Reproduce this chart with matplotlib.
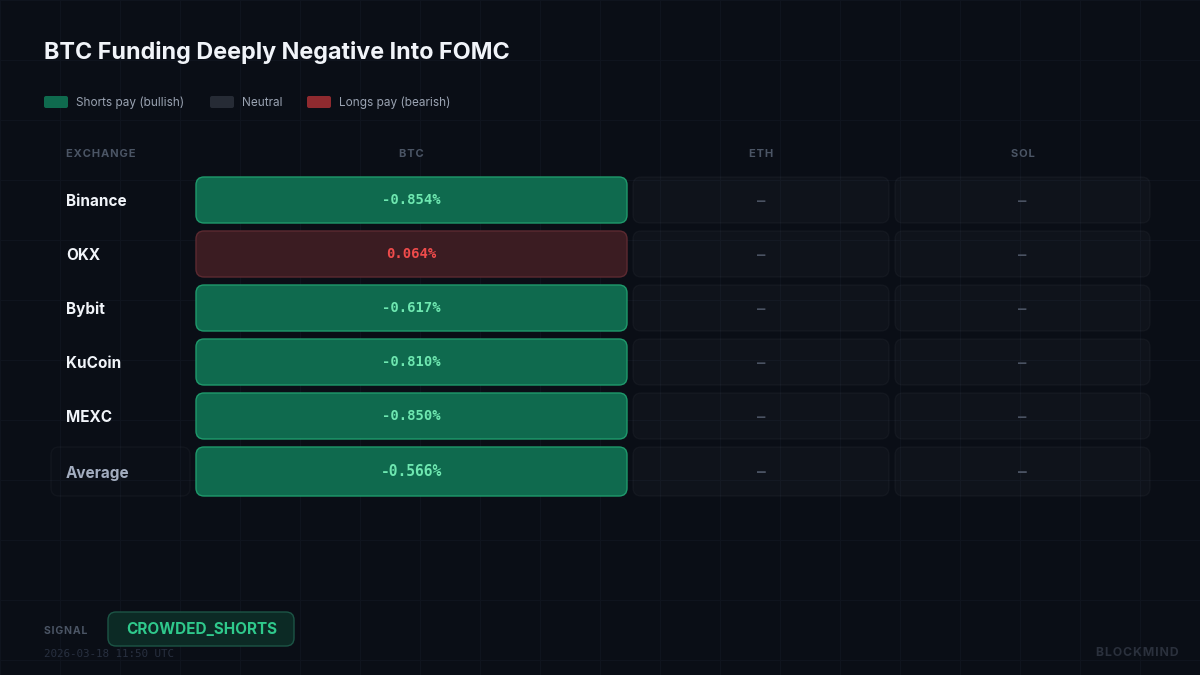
import matplotlib.pyplot as plt
from matplotlib.patches import FancyBboxPatch

# data
exchanges = ["Binance", "OKX", "Bybit", "KuCoin", "MEXC"]
assets = ["BTC", "ETH", "SOL"]
btc_funding = [-0.854, 0.064, -0.617, -0.810, -0.850]
eth_funding = [None, None, None, None, None]
sol_funding = [None, None, None, None, None]
avg_funding = [-0.566, None, None]
signal = "CROWDED_SHORTS"
timestamp = "2026-03-18 11:50 UTC"
legend_labels = ["Shorts pay (bullish)", "Neutral", "Longs pay (bearish)"]

BG = "#0a0e16"
GREEN_FILL, GREEN_EDGE, GREEN_TEXT = "#0f6a4e", "#1f9a6c", "#6ee7b0"
RED_FILL, RED_EDGE, RED_TEXT = "#3b1c22", "#5c2a31", "#ef4b4b"
NEU_FILL, NEU_EDGE, NEU_TEXT = (1, 1, 1, 0.022), (1, 1, 1, 0.03), "#4a5262"
SANS = ["Inter", "DejaVu Sans"]
MONO = ["DejaVu Sans Mono"]
HAIR = "\u200a"

W, H = 1200, 675
fig = plt.figure(figsize=(12, 6.75), dpi=100, facecolor=BG)
ax = fig.add_axes([0, 0, 1, 1])
ax.set_xlim(0, W)
ax.set_ylim(H, 0)
ax.axis("off")

# faint background grid
for gx in range(0, W + 1, 60):
    ax.axvline(gx, color="#0f141e", lw=0.8, zorder=0)
for gy in range(0, H + 1, 60):
    ax.axhline(gy, color="#0f141e", lw=0.8, zorder=0)


def cell(x0, y0, w, h, fill, edge, r=8, lw=1.0):
    ax.add_patch(FancyBboxPatch((x0 + r, y0 + r), w - 2 * r, h - 2 * r,
                                boxstyle=f"round,pad={r}", fc=fill, ec=edge, lw=lw, zorder=2))


def style_for(v):
    if v is None:
        return NEU_FILL, NEU_EDGE, NEU_TEXT, "\u2014"
    if v < 0:
        return GREEN_FILL, GREEN_EDGE, GREEN_TEXT, f"{v:.3f}%"
    return RED_FILL, RED_EDGE, RED_TEXT, f"{v:.3f}%"


# title
ax.text(44, 52, "BTC Funding Deeply Negative Into FOMC", color="#f1f4f9", fontsize=16.8,
        fontweight="bold", family=SANS, va="center", ha="left")

# legend
leg_x = [44, 210, 307]
leg_c = [GREEN_FILL, "#262b35", "#8f2a2f"]
for lx, lc, lt in zip(leg_x, leg_c, legend_labels):
    ax.add_patch(FancyBboxPatch((lx + 2, 98), 20, 8, boxstyle="round,pad=2", fc=lc, ec="none", zorder=2))
    ax.text(lx + 32, 103, lt, color="#9aa3b2", fontsize=8.5, family=SANS, va="center", ha="left")

# columns
col_x = [196, 633, 895]
col_w = [431, 256, 255]
row_y0, row_h, row_pitch = 177, 46, 54
hdr_col = "#4b5565"
ax.text(66, 154, HAIR.join("EXCHANGE"), color=hdr_col, fontsize=8,
        fontweight="bold", family=SANS, va="center", ha="left")
for cx, cw, name in zip(col_x, col_w, assets):
    ax.text(cx + cw / 2, 154, HAIR.join(name), color=hdr_col, fontsize=8, fontweight="bold",
            family=SANS, va="center", ha="center")

series = [btc_funding, eth_funding, sol_funding]
for i, exch in enumerate(exchanges):
    y0 = row_y0 + i * row_pitch
    ax.text(66, y0 + row_h / 2 + 1.5, exch, color="#f1f4f9", fontsize=11, fontweight="bold",
            family=SANS, va="center", ha="left")
    for cx, cw, vals in zip(col_x, col_w, series):
        fill, edge, tc, txt = style_for(vals[i])
        cell(cx, y0, cw, row_h, fill, edge)
        ax.text(cx + cw / 2, y0 + row_h / 2 + 0.5, txt, color=tc, fontsize=10, fontweight="bold",
                family=MONO, va="center", ha="center", zorder=3)

# average row
y0 = row_y0 + len(exchanges) * row_pitch
avg_h = 49
cell(51, y0, 139, avg_h, (1, 1, 1, 0.006), (1, 1, 1, 0.03))
ax.text(66, y0 + avg_h / 2 + 2, "Average", color="#a3adbf", fontsize=11, fontweight="bold",
        family=SANS, va="center", ha="left", zorder=3)
for cx, cw, v in zip(col_x, col_w, avg_funding):
    fill, edge, tc, txt = style_for(v)
    cell(cx, y0, cw, avg_h, fill, edge)
    ax.text(cx + cw / 2, y0 + avg_h / 2, txt, color=tc, fontsize=10.5, fontweight="bold",
            family=MONO, va="center", ha="center", zorder=3)

# footer
ax.text(44, 631, HAIR.join("SIGNAL"), color="#4b5565", fontsize=7.5, fontweight="bold", family=SANS,
        va="center", ha="left")
ax.add_patch(FancyBboxPatch((116, 620), 170, 18, boxstyle="round,pad=8", fc="#0c2a25",
                            ec="#1c5546", lw=1.0, zorder=2))
ax.text(202, 630, signal, color="#2fc98c", fontsize=11, fontweight="bold", family=SANS,
        va="center", ha="center", zorder=3)
ax.text(44, 654, timestamp, color="#283040", fontsize=7.8, family=MONO, va="center", ha="left")
ax.text(1179, 653, HAIR.join("BLOCKMIND"), color="#2a303c", fontsize=8.8, fontweight="bold",
        family=SANS, va="center", ha="right")

fig.savefig("out.png", dpi=100, facecolor=BG)
